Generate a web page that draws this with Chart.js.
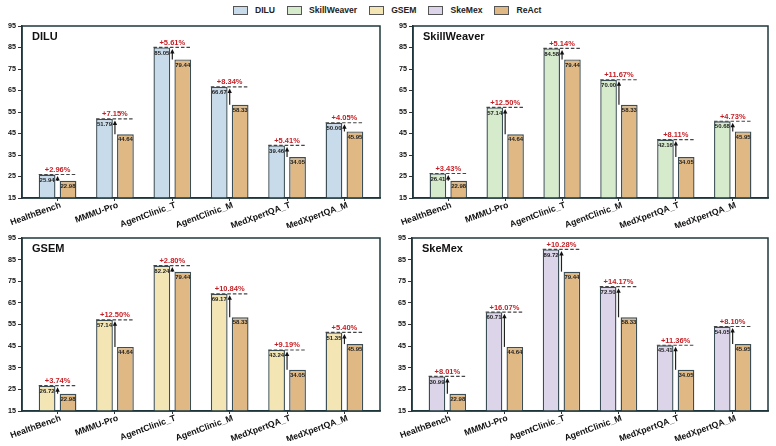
<!DOCTYPE html>
<html lang="en">
<head>
    <meta charset="UTF-8">
    <title>Agent memory methods vs ReAct</title>
    <style>
        body {
            margin: 0;
            width: 776px;
            height: 446px;
            background: #fff;
            font-family: 'Liberation Sans', Arial, sans-serif;
            position: relative;
            overflow: hidden;
        }
        canvas {
            position: absolute;
        }
        #legend {
            position: absolute;
            left: 233px;
            top: 5px;
            display: flex;
            align-items: center;
            font-size: 8.6px;
            font-weight: bold;
            color: #222;
        }
        #legend .item {
            display: flex;
            align-items: center;
            margin-right: 12px;
        }
        #legend .box {
            width: 13px;
            height: 7px;
            border: 1px solid #555;
            margin-right: 7px;
        }
    </style>
    <script src="https://cdn.jsdelivr.net/npm/chart.js"></script>
</head>
<body>
    <div id="legend"></div>
    <script>
        // benchmark names and scores
        const categories = ['HealthBench', 'MMMU-Pro', 'AgentClinic_T', 'AgentClinic_M', 'MedXpertQA_T', 'MedXpertQA_M'];
        const reactScores = [22.98, 44.64, 79.44, 58.33, 34.05, 45.95];

        const diluScores = [25.94, 51.79, 85.05, 66.67, 39.46, 50.00];
        const skillWeaverScores = [26.41, 57.14, 84.58, 70.00, 42.16, 50.68];
        const gsemScores = [26.72, 57.14, 82.24, 69.17, 43.24, 51.35];
        const skeMexScores = [30.99, 60.71, 89.72, 72.50, 45.41, 54.05];

        const diluGains = ['+2.96%', '+7.15%', '+5.61%', '+8.34%', '+5.41%', '+4.05%'];
        const skillWeaverGains = ['+3.43%', '+12.50%', '+5.14%', '+11.67%', '+8.11%', '+4.73%'];
        const gsemGains = ['+3.74%', '+12.50%', '+2.80%', '+10.84%', '+9.19%', '+5.40%'];
        const skeMexGains = ['+8.01%', '+16.07%', '+10.28%', '+14.17%', '+11.36%', '+8.10%'];

        const yTicks = [15, 25, 35, 45, 55, 65, 75, 85, 95];

        const FONT = "'Liberation Sans', Arial, sans-serif";
        const reactColor = '#dfb884';

        const panels = [
            { name: 'DILU', scores: diluScores, gains: diluGains, color: '#c8dbea', area: [22, 26, 380, 198] },
            { name: 'SkillWeaver', scores: skillWeaverScores, gains: skillWeaverGains, color: '#d6ebcc', area: [413, 26, 768, 198] },
            { name: 'GSEM', scores: gsemScores, gains: gsemGains, color: '#f4e6b4', area: [22, 238, 380, 411] },
            { name: 'SkeMex', scores: skeMexScores, gains: skeMexGains, color: '#dcd5ea', area: [412, 238, 768, 411] }
        ];

        // legend
        const legend = document.getElementById('legend');
        panels.map(p => [p.name, p.color]).concat([['ReAct', reactColor]]).forEach(([name, color]) => {
            const item = document.createElement('div');
            item.className = 'item';
            item.innerHTML = '<div class="box" style="background:' + color + '"></div><span>' + name + '</span>';
            legend.appendChild(item);
        });

        // draws value labels, arrows, dashed reference lines, gains and the panel frame
        const annotations = {
            id: 'annotations',
            afterDatasetsDraw(chart, args, opts) {
                const ctx = chart.ctx;
                const area = chart.chartArea;
                const m0 = chart.getDatasetMeta(0).data;
                const m1 = chart.getDatasetMeta(1).data;
                ctx.save();
                m0.forEach((b0, i) => {
                    const b1 = m1[i];
                    const left = b0.x - b0.width / 2;
                    const right = b1.x + b1.width / 2;

                    // dashed line at method score
                    ctx.strokeStyle = '#444';
                    ctx.lineWidth = 1.1;
                    ctx.setLineDash([3.5, 2]);
                    ctx.beginPath();
                    ctx.moveTo(left, b0.y);
                    ctx.lineTo(right, b0.y);
                    ctx.stroke();
                    ctx.setLineDash([]);

                    // arrow from ReAct to method score
                    const ax = (b0.x + b0.width / 2 + b1.x - b1.width / 2) / 2;
                    const tip = b0.y + 1.5;
                    ctx.strokeStyle = '#222';
                    ctx.lineWidth = 1.2;
                    ctx.beginPath();
                    ctx.moveTo(ax, b1.y);
                    ctx.lineTo(ax, tip + 3);
                    ctx.stroke();
                    ctx.fillStyle = '#111';
                    ctx.beginPath();
                    ctx.moveTo(ax, tip);
                    ctx.lineTo(ax - 2.2, tip + 4.5);
                    ctx.lineTo(ax + 2.2, tip + 4.5);
                    ctx.closePath();
                    ctx.fill();

                    // values
                    ctx.font = 'bold 6px ' + FONT;
                    ctx.textAlign = 'center';
                    ctx.textBaseline = 'middle';
                    ctx.fillStyle = '#222';
                    ctx.fillText(opts.scores[i].toFixed(2), b0.x, b0.y + 5.5);
                    ctx.fillText(reactScores[i].toFixed(2), b1.x, b1.y + 5.5);

                    // gain
                    ctx.font = 'bold 7.5px ' + FONT;
                    ctx.fillStyle = '#c41e24';
                    ctx.textBaseline = 'alphabetic';
                    ctx.fillText(opts.gains[i], (left + right) / 2, b0.y - 2.5);
                });

                // panel title
                ctx.font = 'bold 11px ' + FONT;
                ctx.fillStyle = '#111';
                ctx.textAlign = 'left';
                ctx.textBaseline = 'middle';
                ctx.fillText(opts.title, area.left + 10, area.top + 10.5);

                // frame
                ctx.strokeStyle = '#1e373c';
                ctx.lineWidth = 1.5;
                ctx.strokeRect(area.left, area.top, area.right - area.left, area.bottom - area.top);
                ctx.restore();
            }
        };

        panels.forEach(p => {
            const [l, t, r, b] = p.area;
            const canvas = document.createElement('canvas');
            const w = (r - l) + 22 + 8;
            const h = (b - t) + 12 + 30 + 12;
            canvas.width = w;
            canvas.height = h;
            canvas.style.left = (l - 22) + 'px';
            canvas.style.top = (t - 12) + 'px';
            document.body.appendChild(canvas);

            new Chart(canvas.getContext('2d'), {
                type: 'bar',
                data: {
                    datasets: [{
                        label: p.name,
                        data: p.scores.map((v, i) => ({ x: i, y: v })),
                        backgroundColor: p.color,
                        borderColor: '#3c4e55',
                        borderWidth: 1.4
                    }, {
                        label: 'ReAct',
                        data: reactScores.map((v, i) => ({ x: i, y: v })),
                        backgroundColor: reactColor,
                        borderColor: '#3c4e55',
                        borderWidth: 1.4
                    }]
                },
                options: {
                    responsive: false,
                    animation: false,
                    devicePixelRatio: 1,
                    barPercentage: 0.8,
                    categoryPercentage: 0.73,
                    layout: { padding: { top: 12, right: 8, left: 0, bottom: 12 } },
                    plugins: {
                        legend: { display: false },
                        tooltip: { enabled: false },
                        annotations: { title: p.name, scores: p.scores, gains: p.gains }
                    },
                    scales: {
                        x: {
                            type: 'linear',
                            offset: false,
                            min: -0.62,
                            max: 5.62,
                            afterBuildTicks: s => { s.ticks = categories.map((c, i) => ({ value: i })); },
                            afterFit: s => { s.height = 30; s.paddingLeft = 0; s.paddingRight = 0; },
                            grid: { offset: false, drawOnChartArea: false, drawTicks: true, tickLength: 3, tickColor: '#333' },
                            border: { color: '#1e373c', width: 1.5 },
                            ticks: {
                                minRotation: 20,
                                maxRotation: 20,
                                padding: -1,
                                labelOffset: 3,
                                color: '#111',
                                font: { family: FONT, size: 8.7, weight: 'bold' },
                                callback: v => categories[v]
                            }
                        },
                        y: {
                            min: 15,
                            max: 95,
                            afterBuildTicks: s => { s.ticks = yTicks.map(v => ({ value: v })); },
                            afterFit: s => { s.width = 22; s.paddingTop = 0; s.paddingBottom = 0; },
                            grid: { drawOnChartArea: false, drawTicks: true, tickLength: 4, tickColor: '#333' },
                            border: { color: '#1e373c', width: 1.5 },
                            ticks: {
                                padding: 2,
                                color: '#111',
                                font: { family: FONT, size: 7.2, weight: 'bold' }
                            }
                        }
                    }
                },
                plugins: [annotations]
            });
        });
    </script>
</body>
</html>
